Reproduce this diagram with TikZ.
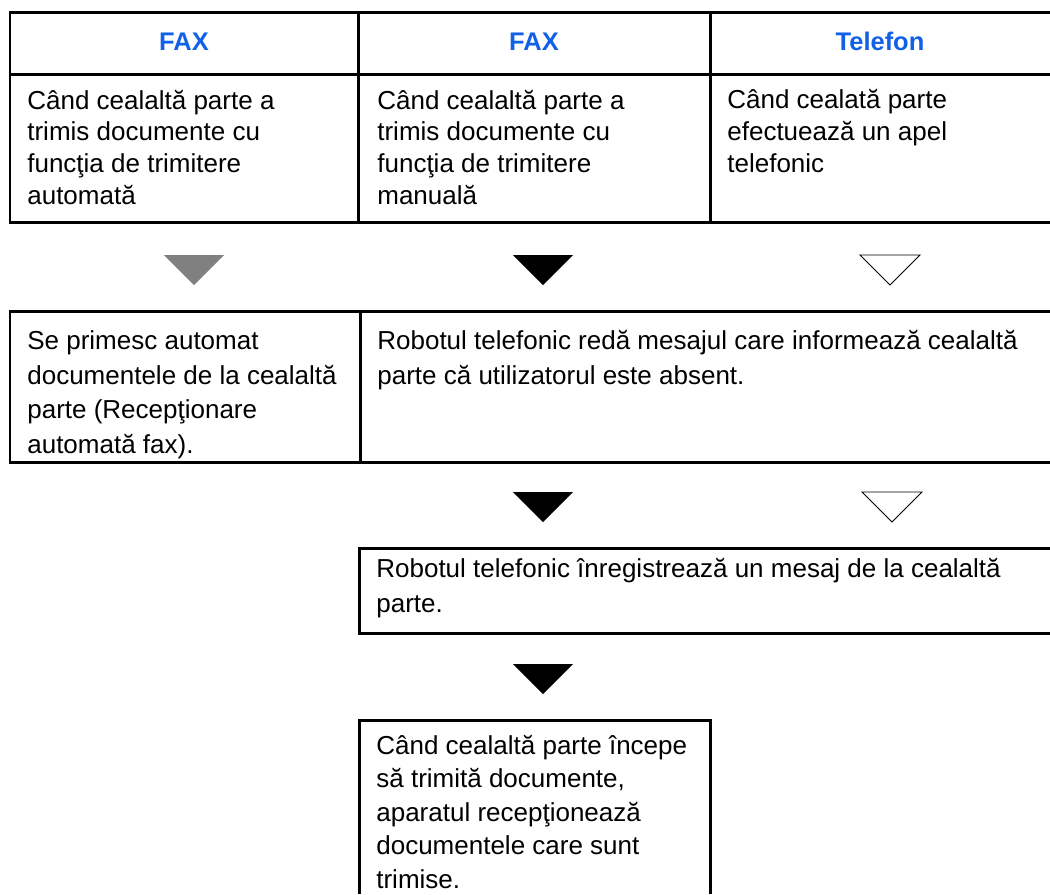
\documentclass[tikz,border=0pt]{standalone}
\usepackage{fontspec}
\setmainfont{Liberation Sans}
\usepackage{xcolor}

\definecolor{headblue}{RGB}{16,96,232}
\definecolor{tgray}{RGB}{128,128,128}

\begin{document}
\begin{tikzpicture}[
    x=0.02cm, y=-0.02cm,
    rule/.style={line width=0.06cm},
    head/.style={anchor=base, inner sep=0pt, text=headblue, font=\fontsize{14.5}{17}\selectfont\bfseries},
    cell/.style={anchor=base west, align=left, inner sep=0pt, font=\fontsize{14.8}{19.6}\selectfont},
    topcell/.style={cell, font=\fontsize{14.8}{18}\selectfont},
    tri/.pic={\path[pic actions] (-30,0) -- (30,0) -- (0,30) -- cycle;}
]
\useasboundingbox (0,0) rectangle (1050,894);

% Top table (nodes sit on the baseline of their last line)
\draw[rule] (1050,12) -- (10,12) -- (10,222) -- (1050,222);
\draw[rule] (10,74) -- (1050,74);
\draw[rule] (358,12) -- (358,222);
\draw[rule] (710,12) -- (710,222);

\node[head] (hfax1) at (184,50) {FAX};
\node[head] (hfax2) at (534,50) {FAX};
\node[head] (htel) at (880,50) {Telefon};

\node[topcell] (cauto) at (27,204) {Când cealaltă parte a\\trimis documente cu\\funcţia de trimitere\\automată};
\node[topcell] (cman) at (377,204) {Când cealaltă parte a\\trimis documente cu\\funcţia de trimitere\\manuală};
\node[topcell] (ctel) at (727,172) {Când cealată parte\\efectuează un apel\\telefonic};

% First row of arrows
\pic[fill=tgray] (a1) at (194,255) {tri};
\pic[fill=black] (a2) at (543,255) {tri};
\pic[draw=black, line width=0.5pt, fill=white] (a3) at (890,255) {tri};

% Second row
\draw[rule] (1050,311) -- (10,311) -- (10,462) -- (1050,462);
\draw[rule] (360,311) -- (360,462);

\node[cell] (recv) at (27,453) {Se primesc automat\\documentele de la cealaltă\\parte (Recepţionare\\automată fax).};
\node[cell] (msg) at (377,384) {Robotul telefonic redă mesajul care informează cealaltă\\parte că utilizatorul este absent.};

\pic[fill=black] (b2) at (543,492) {tri};
\pic[draw=black, line width=0.5pt, fill=white] (b3) at (892,492) {tri};

% Third row
\draw[rule] (1050,548) -- (359,548) -- (359,633) -- (1050,633);
\node[cell] (rec) at (376,612) {Robotul telefonic înregistrează un mesaj de la cealaltă\\parte.};

\pic[fill=black] (c2) at (543,664) {tri};

% Last box, open at the bottom
\draw[rule] (359,894) -- (359,720) -- (710,720) -- (710,894);
\node[cell, font=\fontsize{14.8}{19}\selectfont] (doc) at (376,888) {Când cealaltă parte începe\\să trimită documente,\\aparatul recepţionează\\documentele care sunt\\trimise.};

\end{tikzpicture}
\end{document}
